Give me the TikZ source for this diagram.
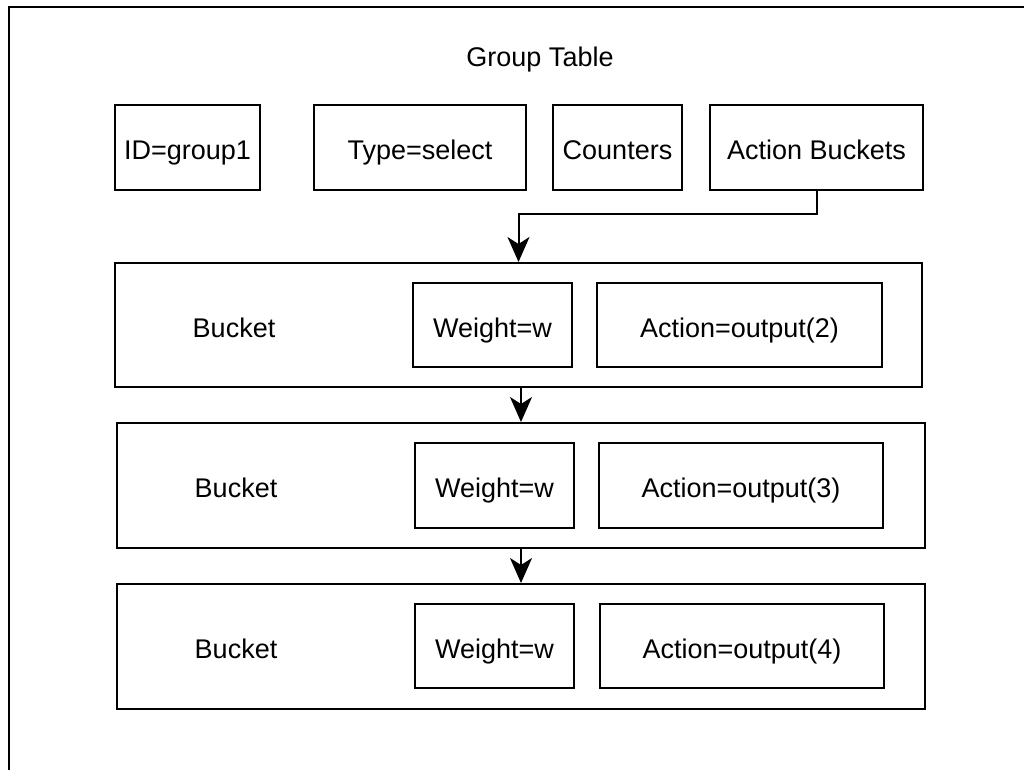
\documentclass[tikz,border=0pt]{standalone}
\usepackage{fontspec}
\setmainfont{Liberation Sans}
\usepackage{tikz}
\usetikzlibrary{arrows.meta}

\tikzset{
    txt/.style={font=\fontsize{27}{32}\selectfont, text height=20pt, text depth=0pt},
    box/.style={draw, line width=2pt, inner sep=0pt, txt},
    label/.style={inner sep=0pt, txt},
    arr/.style={line width=2pt, -{Stealth[length=25pt, width=22pt, inset=7pt]}}
}

\begin{document}
\begin{tikzpicture}[x=1pt, y=-1pt]
            \useasboundingbox (0,0) rectangle (1024,769);
            \clip (0,0) rectangle (1024,769);
            \draw[line width=2pt] (9,7) rectangle (1060,800);

            \node[label] (title) at (540,56) {Group Table};
            \node[box, minimum width=145pt, minimum height=85pt] (id) at (187.5,147.5) {\raisebox{-2pt}{ID=group1}};
            \node[box, minimum width=212pt, minimum height=85pt] (type) at (420,147.5) {\raisebox{-2pt}{Type=select}};
            \node[box, minimum width=129pt, minimum height=85pt] (counters) at (617.5,147.5) {\raisebox{-2pt}{Counters}};
            \node[box, minimum width=213pt, minimum height=85pt] (actions) at (816.5,147.5) {\raisebox{-2pt}{Action Buckets}};

            \node[box, minimum width=807pt, minimum height=124pt] (bucket1) at (518.5,325) {};
            \node[label] (name1) at (234,327) {Bucket};
            \node[box, minimum width=159pt, minimum height=84pt] (weight1) at (492.5,325) {\raisebox{-2pt}{Weight=w}};
            \node[box, minimum width=285pt, minimum height=84pt] (action1) at (739.5,325) {\raisebox{-2pt}{Action=output(2)}};

            \node[box, minimum width=808pt, minimum height=125pt] (bucket2) at (521,485.5) {};
            \node[label] (name2) at (236,487.5) {Bucket};
            \node[box, minimum width=159pt, minimum height=85pt] (weight2) at (494.5,485.5) {\raisebox{-2pt}{Weight=w}};
            \node[box, minimum width=284pt, minimum height=85pt] (action2) at (741,485.5) {\raisebox{-2pt}{Action=output(3)}};

            \node[box, minimum width=808pt, minimum height=125pt] (bucket3) at (521,646.5) {};
            \node[label] (name3) at (236,648.5) {Bucket};
            \node[box, minimum width=159pt, minimum height=84pt] (weight3) at (494.5,646) {\raisebox{-2pt}{Weight=w}};
            \node[box, minimum width=284pt, minimum height=84pt] (action3) at (742,646) {\raisebox{-2pt}{Action=output(4)}};

            \draw[arr] (actions.south) -- ++(0,23) -| (bucket1.north);
            \draw[arr] (bucket1.south -| bucket2.north) -- (bucket2.north);
            \draw[arr] (bucket2.south) -- (bucket3.north);
        \end{tikzpicture}
\end{document}
